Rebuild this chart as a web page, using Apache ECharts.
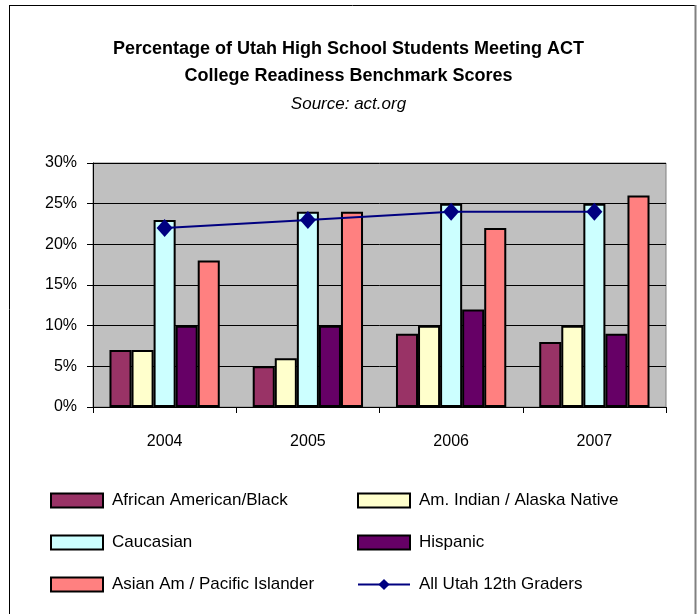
<!DOCTYPE html>
<html>
<head>
<meta charset="utf-8">
<script src="https://cdn.jsdelivr.net/npm/echarts@6/dist/echarts.min.js"></script>
<style>html,body{margin:0;padding:0;background:#fff}#c{width:697px;height:614px}</style>
</head>
<body>
<div id="c"></div>
<script>
const years = ['2004', '2005', '2006', '2007'];
const africanAmerican = [7, 5, 9, 8];
const amIndian = [7, 6, 10, 10];
const caucasian = [23, 24, 25, 25];
const hispanic = [10, 10, 12, 9];
const asianAm = [18, 24, 22, 26];
const allUtah = [22, 23, 24, 24];
const yTicks = [0, 5, 10, 15, 20, 25, 30];

const font = 'Liberation Sans, Arial, sans-serif';
const chart = echarts.init(document.getElementById('c'), null, {renderer: 'canvas'});

function barSeries(name, data, color) {
  return {
    name: name, type: 'bar', data: data, barGap: '0%', barCategoryGap: '23%',
    itemStyle: {color: color, borderColor: '#000', borderWidth: 2},
    emphasis: {disabled: true}
  };
}

const legendText = {fontFamily: font, fontSize: 17, color: '#000', padding: [0, 0, 0, 4]};

chart.setOption({
  animation: false,
  backgroundColor: '#fff',
  textStyle: {fontFamily: font},
  title: {
    text: 'Percentage of Utah High School Students Meeting ACT\nCollege Readiness Benchmark Scores',
    subtext: 'Source: act.org',
    left: 'center',
    top: 31,
    itemGap: 6,
    textStyle: {fontFamily: font, fontSize: 18, fontWeight: 'bold', color: '#000', lineHeight: 27},
    subtextStyle: {fontFamily: font, fontSize: 17, fontStyle: 'italic', color: '#000'}
  },
  legend: [
    {
      orient: 'vertical', left: 50, top: 492, itemGap: 25, itemWidth: 52, itemHeight: 14, padding: 0,
      data: [{name: 'African American/Black', icon: 'rect'}, {name: 'Caucasian', icon: 'rect'}, {name: 'Asian Am / Pacific Islander', icon: 'rect'}],
      textStyle: legendText,
      selectedMode: false
    },
    {
      orient: 'vertical', left: 357, top: 492, itemGap: 25, itemWidth: 52, itemHeight: 14, padding: 0,
      data: [{name: 'Am. Indian / Alaska Native', icon: 'rect'}, {name: 'Hispanic', icon: 'rect'}, 'All Utah 12th Graders'],
      textStyle: legendText,
      selectedMode: false
    }
  ],
  grid: {
    left: 93, top: 163, right: 31, bottom: 207,
    show: true, backgroundColor: '#C0C0C0', borderColor: '#808080', borderWidth: 1
  },
  xAxis: {
    type: 'category', data: years, boundaryGap: true,
    axisLine: {lineStyle: {color: '#000', width: 1}},
    axisTick: {show: true, length: 6, lineStyle: {color: '#000'}},
    axisLabel: {fontFamily: font, fontSize: 16, color: '#000', margin: 27}
  },
  yAxis: {
    type: 'value', min: 0, max: 30, interval: 5,
    axisLine: {show: true, lineStyle: {color: '#000', width: 1}},
    axisTick: {show: true, length: 6, lineStyle: {color: '#000'}},
    axisLabel: {fontFamily: font, fontSize: 16, color: '#000', margin: 16, formatter: v => yTicks.includes(v) ? v + '%' : ''},
    splitLine: {show: true, lineStyle: {color: '#000', width: 1}}
  },
  series: [
    barSeries('African American/Black', africanAmerican, '#993366'),
    barSeries('Am. Indian / Alaska Native', amIndian, '#FFFFCC'),
    barSeries('Caucasian', caucasian, '#CCFFFF'),
    barSeries('Hispanic', hispanic, '#660066'),
    barSeries('Asian Am / Pacific Islander', asianAm, '#FF8080'),
    {
      name: 'All Utah 12th Graders', type: 'line', data: allUtah,
      symbol: 'diamond', symbolSize: [16, 18],
      lineStyle: {color: '#000080', width: 2},
      itemStyle: {color: '#000080'},
      emphasis: {disabled: true}, z: 5
    }
  ],
  graphic: [
    {type: 'line', shape: {x1: 9, y1: 5.5, x2: 696, y2: 5.5}, style: {stroke: '#000', lineWidth: 1}},
    {type: 'line', shape: {x1: 9.5, y1: 5, x2: 9.5, y2: 614}, style: {stroke: '#000', lineWidth: 1}},
    {type: 'line', shape: {x1: 695.5, y1: 5, x2: 695.5, y2: 614}, style: {stroke: '#808080', lineWidth: 2}}
  ]
});
</script>
</body>
</html>
